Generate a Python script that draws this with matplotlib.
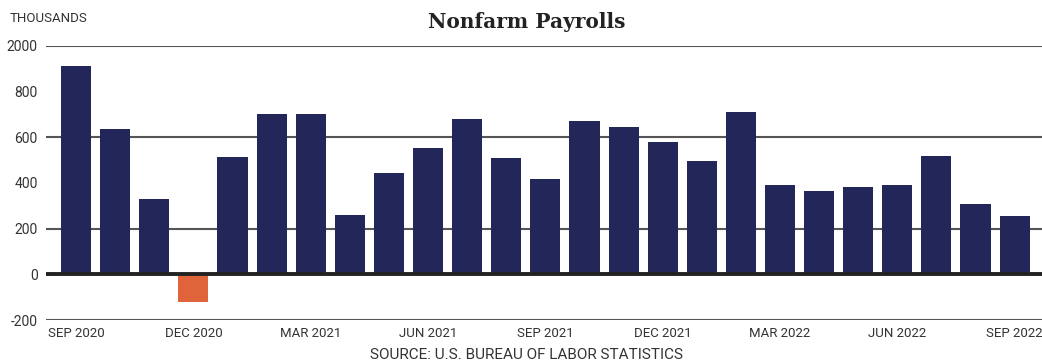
import matplotlib.pyplot as plt

# Monthly change in nonfarm payrolls, thousands
months = ['SEP 2020', 'OCT 2020', 'NOV 2020', 'DEC 2020', 'JAN 2021', 'FEB 2021',
          'MAR 2021', 'APR 2021', 'MAY 2021', 'JUN 2021', 'JUL 2021', 'AUG 2021',
          'SEP 2021', 'OCT 2021', 'NOV 2021', 'DEC 2021', 'JAN 2022', 'FEB 2022',
          'MAR 2022', 'APR 2022', 'MAY 2022', 'JUN 2022', 'JUL 2022', 'AUG 2022',
          'SEP 2022']
payrolls = [910, 637, 330, -123, 514, 703, 699, 259, 444, 554, 681, 510,
            418, 672, 642, 580, 497, 708, 391, 365, 382, 391, 519, 308, 255]

# y-axis ticks (top tick labelled 2000 on an axis break)
ytick_pos = [1000, 800, 600, 400, 200, 0, -200]
ytick_labels = ['2000', '800', '600', '400', '200', '0', '-200']
grid_pos = [1000, 600, 200, -200]

navy = '#232659'
orange = '#E0643A'
text_col = '#333333'
label_font = ['Roboto', 'DejaVu Sans']

fig = plt.figure(figsize=(10.42, 3.62), dpi=100)
ax = fig.add_axes([0.0441, 0.116, 0.9559, 0.758])

colors = [orange if v < 0 else navy for v in payrolls]
x = list(range(len(payrolls)))

for g in grid_pos:
    ax.axhline(g, color='#555555', lw=1.5, zorder=1)
ax.axhline(0, color='#222222', lw=2.8, zorder=3)

ax.bar(x, payrolls, width=0.77, color=colors, zorder=2)

ax.set_xlim(-0.77, 24.7)
ax.set_ylim(-200, 1000)

ax.set_yticks(ytick_pos)
ax.set_yticklabels(ytick_labels, fontsize=10, color=text_col, family=label_font)
ax.set_xticks(x[::3])
ax.set_xticklabels(months[::3], fontsize=9.5, color=text_col, family=label_font)
ax.tick_params(axis='both', length=0)
ax.tick_params(axis='y', pad=6)
ax.tick_params(axis='x', pad=5)

for s in ax.spines.values():
    s.set_visible(False)

fig.text(0.5055, 0.94, 'Nonfarm Payrolls', ha='center', va='center',
         fontsize=14.5, fontweight='bold', family='DejaVu Serif', color='#222222')
fig.text(0.0096, 0.95, 'THOUSANDS', ha='left', va='center',
         fontsize=9.5, color=text_col, family=label_font)
fig.text(0.5055, 0.018, 'SOURCE: U.S. BUREAU OF LABOR STATISTICS', ha='center', va='center',
         fontsize=11, color=text_col, family=label_font)

fig.savefig('out.png', dpi=100)
